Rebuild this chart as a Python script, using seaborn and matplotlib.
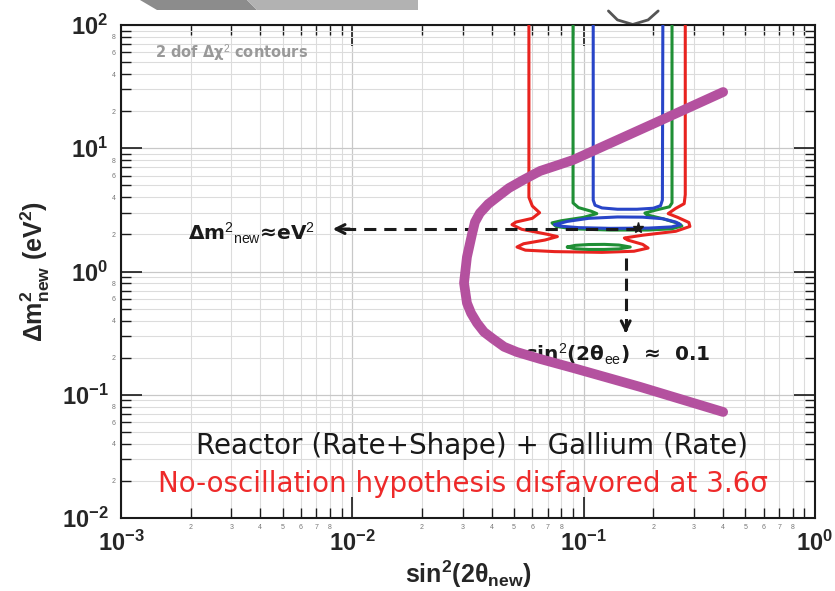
import numpy as np
import pandas as pd
import matplotlib
matplotlib.use("Agg")
import matplotlib.pyplot as plt
import seaborn as sns
from matplotlib.ticker import LogLocator, FuncFormatter
from matplotlib.patches import Polygon

# contornos 2 dof: x = sin^2(2θ_new), y = Δm^2_new (eV^2)
red_x = [0.058, 0.058, 0.060, 0.0645, 0.060, 0.051, 0.049, 0.054, 0.070, 0.077, 0.068,
         0.055, 0.0515, 0.056, 0.075, 0.12, 0.165, 0.19, 0.18, 0.155, 0.150, 0.18,
         0.25, 0.288, 0.285, 0.255, 0.232, 0.250, 0.272, 0.275, 0.275]
red_y = [100, 4.0, 3.4, 3.0, 2.7, 2.52, 2.40, 2.2, 2.0, 1.92, 1.80,
         1.68, 1.58, 1.49, 1.45, 1.43, 1.46, 1.55, 1.66, 1.80, 1.87, 1.97,
         2.12, 2.32, 2.50, 2.75, 2.95, 3.25, 3.55, 4.2, 100]

green_x = [0.090, 0.090, 0.095, 0.108, 0.114, 0.100, 0.080, 0.073, 0.076, 0.090, 0.13,
           0.19, 0.24, 0.266, 0.258, 0.22, 0.188, 0.184, 0.205, 0.235, 0.241, 0.241]
green_y = [100, 3.6, 3.3, 3.08, 2.95, 2.75, 2.58, 2.48, 2.32, 2.22, 2.17,
           2.17, 2.22, 2.34, 2.45, 2.68, 2.88, 2.98, 3.15, 3.35, 3.6, 100]

green_isl_x = [0.085, 0.092, 0.105, 0.123, 0.142, 0.159, 0.142, 0.123, 0.105, 0.092, 0.085]
green_isl_y = [1.58, 1.63, 1.655, 1.66, 1.64, 1.58, 1.525, 1.51, 1.51, 1.53, 1.58]

blue_x = [0.110, 0.110, 0.112, 0.12, 0.14, 0.17, 0.20, 0.215, 0.219, 0.220]
blue_y = [100, 3.8, 3.45, 3.28, 3.2, 3.2, 3.26, 3.42, 3.8, 100]

blue_isl_x = [0.075, 0.085, 0.105, 0.14, 0.18, 0.22, 0.250, 0.262, 0.24, 0.19, 0.13, 0.095, 0.080, 0.075]
blue_isl_y = [2.40, 2.55, 2.70, 2.77, 2.76, 2.68, 2.52, 2.40, 2.30, 2.25, 2.24, 2.27, 2.33, 2.40]

# curva Gallium (roxa)
gal_x = [0.401, 0.200, 0.090, 0.0791, 0.0648, 0.0547, 0.0475, 0.0423, 0.0387, 0.0356, 0.0339,
         0.0330, 0.0313, 0.0304, 0.0313, 0.0326, 0.0346, 0.0371, 0.0405, 0.0453, 0.0515,
         0.065, 0.090, 0.175, 0.401]
gal_y = [28.6, 15.8, 8.03, 7.4, 6.54, 5.52, 4.75, 4.02, 3.53, 2.98, 2.52,
         2.05, 1.31, 0.807, 0.555, 0.46, 0.382, 0.323, 0.285, 0.245, 0.222,
         0.195, 0.165, 0.116, 0.0725]

# pedaco de contorno cinzento acima do grafico
top_x = [0.128, 0.14, 0.163, 0.19, 0.210]
top_y = [130, 110, 101, 110, 130]

# melhor ajuste e setas
bf_x, bf_y = 0.172, 2.21
seta_h_fim = 0.0080
seta_v_x, seta_v_ini, seta_v_fim = 0.152, 1.29, 0.30

sns.set_theme(style="ticks")
plt.rcParams["font.family"] = ["Liberation Sans", "DejaVu Sans"]
plt.rcParams["mathtext.fontset"] = "custom"
plt.rcParams["mathtext.rm"] = "Liberation Sans"
plt.rcParams["mathtext.bf"] = "Liberation Sans:bold"
plt.rcParams["mathtext.it"] = "Liberation Sans:italic"

fig = plt.figure(figsize=(8.35, 5.91), dpi=100)
ax = fig.add_axes([0.1449, 0.1235, 0.8311, 0.8342])
ax.set_xscale("log")
ax.set_yscale("log")

curvas = [
    (red_x, red_y, "#e8231f"),
    (green_x, green_y, "#1f8f35"),
    (green_isl_x, green_isl_y, "#1f8f35"),
    (blue_x, blue_y, "#2845c8"),
    (blue_isl_x, blue_isl_y, "#2845c8"),
]
for cx, cy, cor in curvas:
    df = pd.DataFrame({"x": cx, "y": cy})
    sns.lineplot(data=df, x="x", y="y", sort=False, estimator=None,
                 color=cor, lw=2.2, ax=ax, zorder=3)

df_gal = pd.DataFrame({"x": gal_x, "y": gal_y})
sns.lineplot(data=df_gal, x="x", y="y", sort=False, estimator=None,
             color="#b4519f", lw=7, ax=ax, zorder=6)
ax.lines[-1].set_solid_joinstyle("round")
ax.plot(top_x, top_y, color="#555555", lw=2, clip_on=False, zorder=1)

# setas tracejadas
ax.plot([bf_x, seta_h_fim * 1.15], [bf_y, bf_y], color="k", lw=2.2, ls=(0, (4, 2.6)), zorder=5)
ax.annotate("", xy=(seta_h_fim, bf_y), xytext=(seta_h_fim * 1.25, bf_y),
            arrowprops=dict(arrowstyle="->", lw=2.2, color="k", mutation_scale=16), zorder=5)
ax.plot([seta_v_x, seta_v_x], [seta_v_ini, seta_v_fim * 1.12], color="k", lw=2.2,
        ls=(0, (4, 2.6)), zorder=5)
ax.annotate("", xy=(seta_v_x, seta_v_fim), xytext=(seta_v_x, seta_v_fim * 1.2),
            arrowprops=dict(arrowstyle="->", lw=2.2, color="k", mutation_scale=16), zorder=5)
ax.plot([bf_x], [bf_y * 1.02], marker="*", ms=8, color="k", zorder=5)

ax.set_xlim(1e-3, 1)
ax.set_ylim(1e-2, 1e2)

def maior(v, pos):
    return r"$\mathbf{10^{%d}}$" % int(round(np.log10(v)))

def menor_x(v, pos):
    k = int(round(v / 10 ** np.floor(np.log10(v) + 1e-9)))
    return str(k) if 2 <= k <= 8 else ""

def menor_y(v, pos):
    k = int(round(v / 10 ** np.floor(np.log10(v) + 1e-9)))
    return str(k) if k in (2, 4, 6, 8) else ""

for eixo in (ax.xaxis, ax.yaxis):
    eixo.set_major_locator(LogLocator(base=10, numticks=10))
    eixo.set_minor_locator(LogLocator(base=10, subs=np.arange(2, 10), numticks=40))
    eixo.set_major_formatter(FuncFormatter(maior))
ax.xaxis.set_minor_formatter(FuncFormatter(menor_x))
ax.yaxis.set_minor_formatter(FuncFormatter(menor_y))

ax.grid(True, which="minor", color="#dcdcdc", lw=0.8)
ax.grid(True, which="major", color="#c8c8c8", lw=0.9)
ax.set_axisbelow("line")

for s in ax.spines.values():
    s.set_visible(True)
    s.set_color("k")
    s.set_linewidth(1.5)

ax.set_xlabel(r"sin$^{\mathbf{2}}$(2θ$_{\mathbf{new}}$)", fontsize=18, fontweight="bold", labelpad=2)
ax.set_ylabel(r"Δm$^{\mathbf{2}}_{\mathbf{new}}$ (eV$^{\mathbf{2}}$)", fontsize=18,
              fontweight="bold", labelpad=7)

ax.text(0.049, 0.943, r"2 dof Δχ$^{2}$ contours", transform=ax.transAxes, fontsize=10.5,
        fontweight="bold", color="#999999", va="center", ha="left", family="DejaVu Sans")
ax.text(0.0965, 0.578, r"Δm$^{2}$$_{\mathrm{new}}$≈eV$^{2}$", transform=ax.transAxes, fontsize=14.5,
        fontweight="bold", color="k", va="center", ha="left", family="DejaVu Sans", zorder=4)
ax.text(0.582, 0.331, r"sin$^{2}$(2θ$_{\mathrm{ee}}$)  ≈  0.1", transform=ax.transAxes, fontsize=14.5,
        fontweight="bold", color="k", va="center", ha="left", family="DejaVu Sans", zorder=4)
ax.text(0.5065, 0.147, "Reactor (Rate+Shape) + Gallium (Rate)", transform=ax.transAxes,
        fontsize=20, color="k", va="center", ha="center", family="DejaVu Sans", zorder=4)
ax.text(0.493, 0.068, "No-oscillation hypothesis disfavored at 3.6σ", transform=ax.transAxes,
        fontsize=20, color="#ee2a2a", va="center", ha="center", family="DejaVu Sans", zorder=4)

# marcas dos eixos
ax.minorticks_on()
ax.tick_params(axis="both", which="both", direction="in", top=True, right=True,
               left=True, bottom=True, color="#1a1a1a")
ax.tick_params(axis="both", which="major", length=15, width=1.2, labelsize=17, pad=9)
ax.tick_params(axis="both", which="minor", length=7.5, width=1.0, labelsize=5,
               labelcolor="#777777", pad=4)

# faixa cinzenta no topo (resto do slide)
W, H = 835.0, 591.0
fig.patches.append(Polygon([[140 / W, 1], [247 / W, 1], [257 / W, 1 - 10 / H], [157 / W, 1 - 10 / H]],
                           closed=True, transform=fig.transFigure, color="#8c8c8c", lw=0))
fig.patches.append(Polygon([[247 / W, 1], [418 / W, 1], [418 / W, 1 - 10 / H], [257 / W, 1 - 10 / H]],
                           closed=True, transform=fig.transFigure, color="#b2b2b2", lw=0))

fig.savefig("out.png", dpi=100)
